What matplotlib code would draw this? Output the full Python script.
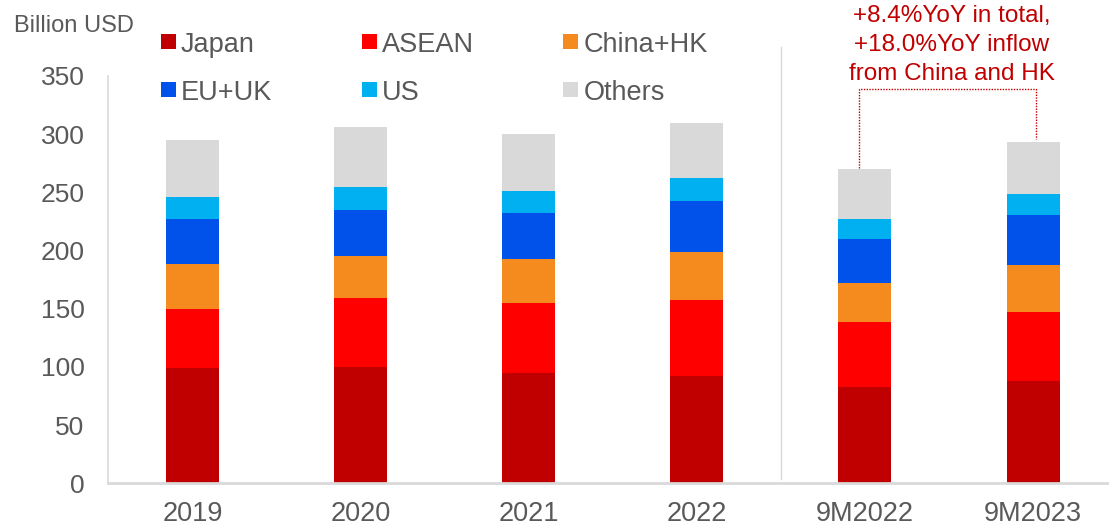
import matplotlib
matplotlib.use("Agg")
import matplotlib.pyplot as plt
from matplotlib.patches import Rectangle

# Inflows by source region, billion USD
periods = ["2019", "2020", "2021", "2022", "9M2022", "9M2023"]
japan = [99.0, 99.7, 95.1, 92.0, 82.5, 87.8]
asean = [51.2, 59.9, 60.2, 65.9, 56.0, 59.6]
china_hk = [38.2, 36.1, 37.5, 40.7, 33.8, 39.9]
eu_uk = [38.3, 39.5, 39.9, 44.4, 37.4, 42.9]
us = [19.6, 19.3, 18.4, 19.5, 17.7, 18.8]
others = [49.0, 52.1, 49.2, 47.3, 42.9, 44.0]

regions = ["Japan", "ASEAN", "China+HK", "EU+UK", "US", "Others"]
series = [japan, asean, china_hk, eu_uk, us, others]
colors = ["#C00000", "#FF0000", "#F58B1F", "#0052EB", "#00B0F0", "#D9D9D9"]

note = "+8.4%YoY in total,\n+18.0%YoY inflow\nfrom China and HK"

W, H = 1109, 529
FONT = ["Liberation Sans", "DejaVu Sans"]
GREY = "#595959"
RED = "#C00000"

fig = plt.figure(figsize=(W / 100, H / 100), dpi=100)
ax = fig.add_axes([108 / W, (H - 483.3) / H, 1 - 108 / W, 407.3 / H])

x = list(range(len(periods)))
bottom = [0.0] * len(periods)
for vals, c in zip(series, colors):
    ax.bar(x, vals, width=0.315, bottom=bottom, color=c, linewidth=0)
    bottom = [b + v for b, v in zip(bottom, vals)]
totals = bottom

ax.set_xlim(-0.504, 5.452)
ax.set_ylim(0, 350)
ax.set_yticks(range(0, 351, 50))
ax.set_xticks(x)
ax.set_xticklabels(periods, family=FONT, fontsize=19.5, color=GREY)
for lbl in ax.get_yticklabels():
    lbl.set_family(FONT)
    lbl.set_fontsize(19)
    lbl.set_color(GREY)
ax.tick_params(axis="y", length=0, pad=17)
ax.tick_params(axis="x", length=0, pad=13)

for s in ["top", "right"]:
    ax.spines[s].set_visible(False)
ax.spines["left"].set_color("#D9D9D9")
ax.spines["left"].set_linewidth(1.2)
ax.spines["bottom"].set_color("#D9D9D9")
ax.spines["bottom"].set_linewidth(2)

# divider between full years and nine-month figures
ax.plot([3.5, 3.5], [3.5, 375], color="#D9D9D9", lw=1, clip_on=False)

# dotted bracket linking the two nine-month totals
ax.plot([3.964, 3.964, 5.02, 5.02], [totals[4] + 1, 338.5, 338.5, totals[5] + 3],
        ls=(0, (1, 1)), color=RED, lw=1, clip_on=False)
fig.text(952 / W, 1 - 45 / H, note, ha="center", va="center", color=RED,
         fontsize=17.5, family=FONT, linespacing=1.43)

fig.text(14 / W, 1 - 32.3 / H, "Billion USD", ha="left", va="baseline",
         color=GREY, fontsize=17, family=FONT)

# legend laid out in two rows of three
col_x = [161, 362, 563.3]
row_y = [41.3, 89.5]
for i, (name, c) in enumerate(zip(regions, colors)):
    cx = col_x[i % 3]
    cy = row_y[i // 3]
    fig.patches.append(Rectangle((cx / W, 1 - (cy + 7.3) / H), 14.7 / W, 14.7 / H,
                                 transform=fig.transFigure, color=c, linewidth=0))
    fig.text((cx + 20) / W, 1 - (cy + 10.2) / H, name, ha="left", va="baseline",
             color=GREY, fontsize=19.5, family=FONT)

fig.savefig("out.png", dpi=100)
